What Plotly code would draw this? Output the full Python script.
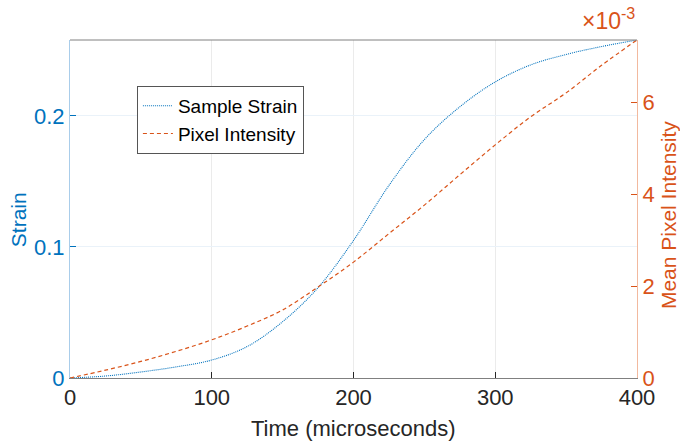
import plotly.graph_objects as go

time_us = [0, 25, 50, 75, 100, 125, 150, 175, 200, 225, 250, 275, 300, 325, 350, 375, 400]
sample_strain = [0.0, 0.0015, 0.0046, 0.0085, 0.0137, 0.024, 0.043, 0.069, 0.105, 0.147, 0.182, 0.207, 0.226, 0.239, 0.247, 0.253, 0.258]
pixel_intensity = [0.0, 0.17e-3, 0.36e-3, 0.58e-3, 0.83e-3, 1.13e-3, 1.48e-3, 1.98e-3, 2.52e-3, 3.14e-3, 3.76e-3, 4.42e-3, 5.07e-3, 5.68e-3, 6.2e-3, 6.8e-3, 7.35e-3]

blue = "#0072BD"
orange = "#D95319"
font = "Liberation Sans, Arial, sans-serif"

W, H = 680, 441

fig = go.Figure()
fig.add_trace(go.Scatter(x=time_us, y=sample_strain, name="Sample Strain", mode="lines",
                         line=dict(color=blue, width=1.1, dash="1px,1px", shape="spline"), yaxis="y"))
fig.add_trace(go.Scatter(x=time_us, y=pixel_intensity, name="Pixel Intensity", mode="lines",
                         line=dict(color=orange, width=1.2, dash="4px,3px", shape="spline"), yaxis="y2"))

fig.update_layout(
    width=W, height=H,
    margin=dict(l=70, r=43, t=40, b=63, autoexpand=False),
    plot_bgcolor="white", paper_bgcolor="white",
    font=dict(family=font, size=22, color="#262626"),
    xaxis=dict(range=[0, 400], tickvals=[0, 100, 200, 300, 400], ticks="inside", ticklen=6,
               tickcolor="#262626", showline=True, linecolor="#808080", linewidth=1,
               showgrid=True, gridcolor="#ebebeb", zeroline=False, automargin=False,
               tickfont=dict(size=22, color="#262626")),
    yaxis=dict(range=[0, 0.258], tickvals=[0, 0.1, 0.2], ticktext=["0", "0.1", "0.2"],
               ticks="inside", ticklen=6, tickcolor=blue, showline=True, linecolor="#a9cdea",
               linewidth=1, showgrid=True, gridcolor="#eaf2f9", zeroline=False, automargin=False,
               tickfont=dict(size=22, color=blue)),
    yaxis2=dict(range=[0, 7.35e-3], tickvals=[0, 2e-3, 4e-3, 6e-3], ticktext=["0", "2", "4", "6"],
                overlaying="y", side="right", ticks="inside", ticklen=6, tickcolor=orange,
                showline=True, linecolor="#f2b99e", linewidth=1, showgrid=False, zeroline=False,
                automargin=False, tickfont=dict(size=22, color=orange)),
    legend=dict(x=0.118, y=0.864, xanchor="left", yanchor="top", bgcolor="white",
                bordercolor="#555555", borderwidth=1, font=dict(size=19, color="black"),
                tracegroupgap=0, itemwidth=30),
    showlegend=True,
)
fig.add_shape(type="line", xref="paper", yref="paper", x0=0, x1=1, y0=1, y1=1,
              line=dict(color="#808080", width=1))
fig.add_annotation(xref="paper", yref="paper", x=1.0, y=1.0, xanchor="right", yanchor="bottom",
                   yshift=4, text="×10<sup>-3</sup>", showarrow=False,
                   font=dict(size=23, color=orange, family=font))
fig.add_annotation(xref="paper", yref="paper", x=0.5, y=-0.148, xanchor="center", yanchor="middle",
                   text="Time (microseconds)", showarrow=False, font=dict(size=22, color="#262626", family=font))
fig.add_annotation(xref="paper", yref="paper", x=-0.0917, y=0.467, xanchor="center", yanchor="middle",
                   text="Strain", textangle=-90, showarrow=False, font=dict(size=21, color=blue, family=font))
fig.add_annotation(xref="paper", yref="paper", x=1.0547, y=0.482, xanchor="center", yanchor="middle",
                   text="Mean Pixel Intensity", textangle=-90, showarrow=False,
                   font=dict(size=21, color=orange, family=font))

fig.write_html("out.html", config={"displayModeBar": False},
               post_script="document.body.style.margin='0';document.body.style.overflow='hidden';")
